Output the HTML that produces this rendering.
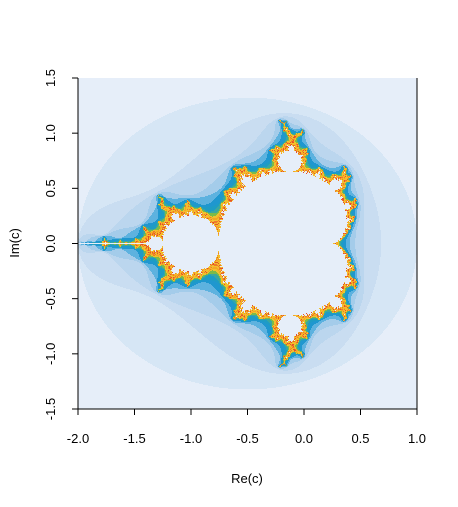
<!DOCTYPE html>
<html><head><meta charset="utf-8"><style>
body{margin:0;background:#fff;width:458px;height:507px;position:relative;overflow:hidden;font-family:"Liberation Sans",sans-serif}
canvas{position:absolute;left:78px;top:78px;width:339px;height:331px;image-rendering:pixelated}
svg{position:absolute;left:0;top:0}
</style></head><body>
<canvas id="c" width="339" height="331"></canvas>
<svg id="s" width="458" height="507"></svg>
<script>
const xTicks=[-2.0,-1.5,-1.0,-0.5,0.0,0.5,1.0];
const yTicks=[-1.5,-1.0,-0.5,0.0,0.5,1.0,1.5];
const xRange=[-2,1], yRange=[-1.5,1.5];
const maxIter=60;
const palette=["#E6EEF9","#E6EEF9","#E6EEF9","#D6E6F5","#C9DDF1","#BBD6EE","#A4CCEA","#5DB2DF","#1F97CF","#1E9CC4","#3AA7A0","#7DBB48"];
const cycle=["#F2C12E","#F5A623","#F2C12E","#EE7A2A","#F5B82A","#E4502A"];
const insideColor="#E6EEF9";
const L=78,R=417,T=78,B=409;
const sx=v=>L+(v-xRange[0])/(xRange[1]-xRange[0])*(R-L);
const sy=v=>B-(v-yRange[0])/(yRange[1]-yRange[0])*(B-T);
const cv=document.getElementById('c'),ctx=cv.getContext('2d');
const W=cv.width,H=cv.height;
for(let j=0;j<H;j++)for(let i=0;i<W;i++){
 const cr=xRange[0]+(i+0.5)/W*(xRange[1]-xRange[0]);
 const ci=yRange[1]-(j+0.5)/H*(yRange[1]-yRange[0]);
 let zr=0,zi=0,n=0;
 while(n<maxIter&&zr*zr+zi*zi<=4){const t=zr*zr-zi*zi+cr;zi=2*zr*zi+ci;zr=t;n++;}
 let col;
 if(n>=maxIter&&zr*zr+zi*zi<=4)col=insideColor;
 else if(n<palette.length)col=palette[n];
 else col=cycle[(n-palette.length)%cycle.length];
 ctx.fillStyle=col;ctx.fillRect(i,j,1,1);
}
const s=document.getElementById('s'),NS="http://www.w3.org/2000/svg";
function el(t,a,txt){const e=document.createElementNS(NS,t);for(const k in a)e.setAttribute(k,a[k]);if(txt!==undefined)e.textContent=txt;s.appendChild(e);return e;}
let e;
e=el('line',{x1:L,y1:sy(yTicks[0]),x2:L,y2:sy(yTicks[yTicks.length-1]),stroke:'#000'});


e=el('line',{x1:sx(xTicks[0]),y1:B,x2:sx(xTicks[xTicks.length-1]),y2:B,stroke:'#000'});


e=el('line',{x1:R,y1:T,x2:R,y2:B,stroke:'#000'});


yTicks.forEach(v=>{
 const y=sy(v);
 e=el('line',{x1:L-6,y1:y,x2:L,y2:y,stroke:'#000'});
 
 
 e=el('text',{x:0,y:0,transform:`translate(55,${y}) rotate(-90)`,'text-anchor':'middle','font-size':'13'},v.toFixed(1));
 
 
});
xTicks.forEach(v=>{
 const x=sx(v);
 e=el('line',{x1:x,y1:B,x2:x,y2:B+6,stroke:'#000'});
 
 
 e=el('text',{x:x,y:443,'text-anchor':'middle','font-size':'13'},v.toFixed(1));
 
 
});
e=el('text',{x:247,y:483,'text-anchor':'middle','font-size':'13'},'Re(c)');


e=el('text',{x:0,y:0,transform:'translate(19,243) rotate(-90)','text-anchor':'middle','font-size':'13'},'Im(c)');


</script>
</body></html>
